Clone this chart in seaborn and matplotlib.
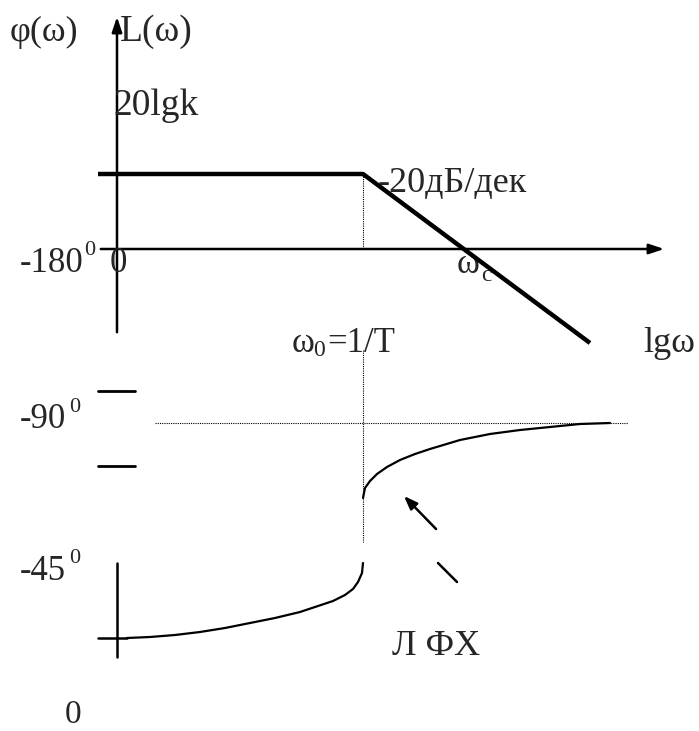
import matplotlib
matplotlib.use("Agg")
import matplotlib.pyplot as plt
import seaborn as sns
import pandas as pd

# --- data (pixel coordinates) ---
# L(w): asymptotic LAFC, flat at 20lgk then -20 dB/dec
lafc_x = [98, 363, 590]
lafc_y = [174, 174, 343]

# phase curve, upper branch (from w0 towards -90 deg)
phase_up_x = [363, 365, 370, 377, 387, 400, 415, 430, 460, 490, 520, 550, 580, 610]
phase_up_y = [498, 488, 481, 474, 467, 460, 454, 449, 440, 434, 430, 427, 424, 423]

# phase curve, lower branch (from 0 deg up to w0)
phase_lo_x = [127, 150, 175, 200, 225, 250, 275, 300, 318, 333, 345, 353, 358, 362, 363]
phase_lo_y = [638, 637, 635, 632, 628, 623, 618, 612, 606, 601, 595, 589, 582, 573, 563]

sns.set_style("white")
plt.rcParams['font.family'] = ['Liberation Serif', 'DejaVu Serif']

fig = plt.figure(figsize=(6.99, 7.31), dpi=100)
ax = fig.add_axes([0, 0, 1, 1])
ax.set_xlim(0, 699)
ax.set_ylim(731, 0)
ax.axis("off")

df_l = pd.DataFrame({"x": lafc_x, "y": lafc_y})
df_up = pd.DataFrame({"x": phase_up_x, "y": phase_up_y})
df_lo = pd.DataFrame({"x": phase_lo_x, "y": phase_lo_y})

sns.lineplot(data=df_l, x="x", y="y", sort=False, color="black", lw=3.2,
             ax=ax, zorder=5, solid_capstyle="butt")
sns.lineplot(data=df_up, x="x", y="y", sort=False, color="black", lw=1.6, ax=ax, zorder=4)
sns.lineplot(data=df_lo, x="x", y="y", sort=False, color="black", lw=1.6, ax=ax, zorder=4)

# axes of the upper diagram
ax.annotate("", xy=(117, 14), xytext=(117, 335),
            arrowprops=dict(arrowstyle="-|>,head_length=0.9,head_width=0.3", color="black", lw=1.8))
ax.annotate("", xy=(667, 249), xytext=(98, 249),
            arrowprops=dict(arrowstyle="-|>,head_length=0.9,head_width=0.3", color="black", lw=1.8))

# lower axis fragment and ticks
ax.plot([117, 117], [563, 657], color="black", lw=1.8)
ax.plot([98, 127], [638, 638], color="black", lw=1.8)
ax.plot([98, 135], [391, 391], color="black", lw=2)
ax.plot([98, 135], [466, 466], color="black", lw=2)

# dotted guides
ax.plot([363, 363], [174, 249], color="black", lw=0.8, ls=(0, (1, 1)))
ax.plot([363, 363], [350, 542], color="black", lw=0.8, ls=(0, (1, 1)))
ax.plot([155, 628], [423, 423], color="black", lw=0.8, ls=(0, (1, 1)))

# pointer arrow to the phase curve
ax.annotate("", xy=(402, 494), xytext=(438, 531),
            arrowprops=dict(arrowstyle="-|>,head_length=0.8,head_width=0.3", color="black", lw=1.8))
ax.plot([438, 457], [563, 582], color="black", lw=1.8)

# --- texts ---
fs = 26
def txt(x, y, s, size=fs, z=3):
    ax.text(x, y, s, fontsize=size, ha="left", va="baseline", zorder=z)

txt(10, 41, "φ(ω)")
txt(120, 41, "L(ω)", size=27)
txt(113, 115, "20lgk", size=27)
txt(378, 192, "-20дБ/дек")
txt(20, 272, "-180", size=25)
txt(84, 255, "0", size=16)
txt(110, 272, "0", size=25)
txt(457, 273, "ω", size=25)
txt(481, 281, "c", size=17)
txt(292, 352, "ω", size=25)
txt(313, 356, "0", size=17)
txt(327, 352, "=1/T", size=25)
txt(643, 352, "lgω", size=26)
txt(20, 428, "-90", size=25)
txt(69, 412, "0", size=16)
txt(20, 580, "-45", size=25)
txt(69, 563, "0", size=16)
txt(392, 655, "Л ФХ", size=26)
txt(65, 723, "0", size=24)

fig.savefig("out.png", dpi=100)
